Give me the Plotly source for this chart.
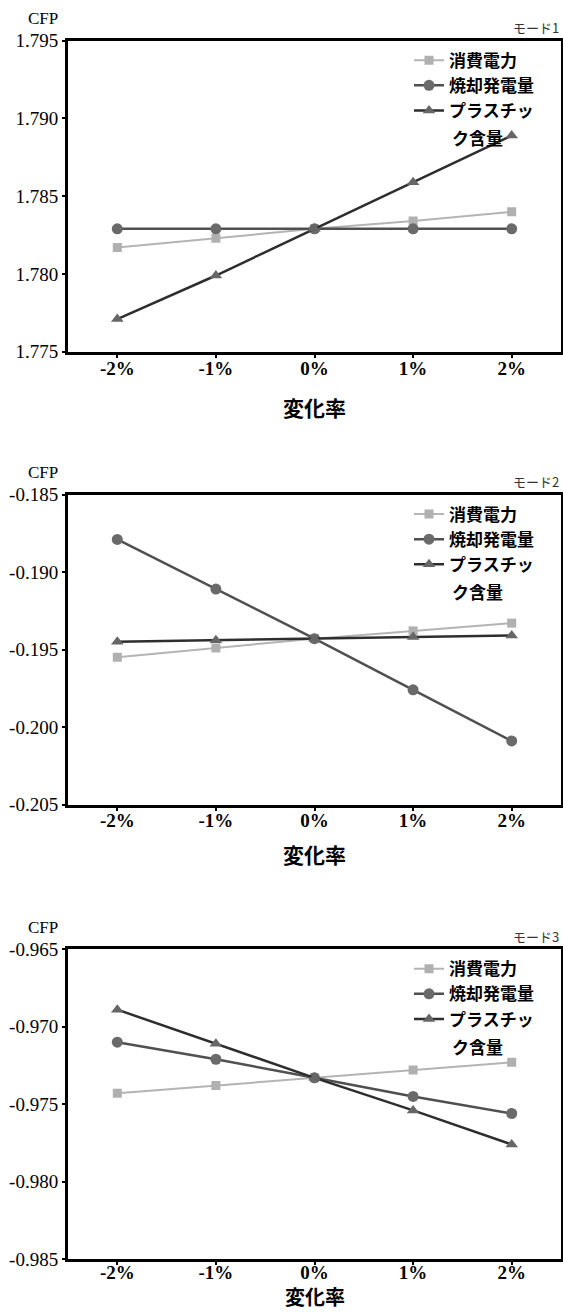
import plotly.graph_objects as go

# ---- data ----
categories = ["-2%", "-1%", "0%", "1%", "2%"]
series_names = ["消費電力", "焼却発電量", "プラスチック含量"]
legend_names = ["消費電力", "焼却発電量", "プラスチッ"]
legend_wrap = "ク含量"

mode1_power = [1.7817, 1.7823, 1.7829, 1.7834, 1.7840]
mode1_incin = [1.7829, 1.7829, 1.7829, 1.7829, 1.7829]
mode1_plast = [1.7771, 1.7799, 1.7829, 1.7859, 1.7889]

mode2_power = [-0.1955, -0.1949, -0.1943, -0.1938, -0.1933]
mode2_incin = [-0.1879, -0.1911, -0.1943, -0.1976, -0.2009]
mode2_plast = [-0.1945, -0.1944, -0.1943, -0.1942, -0.1941]

mode3_power = [-0.9743, -0.9738, -0.9733, -0.9728, -0.9723]
mode3_incin = [-0.9710, -0.9721, -0.9733, -0.9745, -0.9756]
mode3_plast = [-0.9689, -0.9711, -0.9733, -0.9754, -0.9776]

mode_labels = ["モード1", "モード2", "モード3"]
y_tickvals = [
    [1.775, 1.780, 1.785, 1.790, 1.795],
    [-0.205, -0.200, -0.195, -0.190, -0.185],
    [-0.985, -0.980, -0.975, -0.970, -0.965],
]
y_ticktext = [
    ["1.775", "1.780", "1.785", "1.790", "1.795"],
    ["-0.205", "-0.200", "-0.195", "-0.190", "-0.185"],
    ["-0.985", "-0.980", "-0.975", "-0.970", "-0.965"],
]
y_axis_label = "CFP"
x_axis_label = "変化率"

panels = [
    (mode1_power, mode1_incin, mode1_plast),
    (mode2_power, mode2_incin, mode2_plast),
    (mode3_power, mode3_incin, mode3_plast),
]

# ---- styles ----
W, H = 563, 1313
x_dom = [68 / W, 561 / W]
panel_px = [(40.7, 351.7), (494.5, 804.5), (949.2, 1259.2)]
title_shift = [-55, -49, None]
title_size = [21, 21, 20]
label_standoff = [-6, -6, -9]
y_doms = [[1 - b / H, 1 - t / H] for (t, b) in panel_px]

styles = [
    dict(line=dict(color="#b4b4b4", width=2),
         marker=dict(symbol="square", size=9, color="#b0b0b0")),
    dict(line=dict(color="#505050", width=2.5),
         marker=dict(symbol="circle", size=11, color="#6a6a6a")),
    dict(line=dict(color="#2e2e2e", width=2.5),
         marker=dict(symbol="triangle-up", size=11, color="#666666")),
]

CJK = "Noto Sans CJK JP"
SERIF = "Liberation Serif"

fig = go.Figure()
annotations = []
for i, vals in enumerate(panels):
    xa = "x" if i == 0 else f"x{i+1}"
    ya = "y" if i == 0 else f"y{i+1}"
    lg = "legend" if i == 0 else f"legend{i+1}"
    for j, v in enumerate(vals):
        fig.add_trace(go.Scatter(
            x=categories, y=v, mode="lines+markers",
            name=legend_names[j], xaxis=xa, yaxis=ya, legend=lg,
            line=styles[j]["line"], marker=styles[j]["marker"],
        ))

    axis_common = dict(showline=True, linewidth=3, linecolor="black", mirror=True,
                       ticks="outside", ticklen=3, tickwidth=2, tickcolor="black",
                       showgrid=False, zeroline=False, automargin=False)
    xkey = "xaxis" if i == 0 else f"xaxis{i+1}"
    ykey = "yaxis" if i == 0 else f"yaxis{i+1}"
    fig.update_layout(**{
        xkey: dict(axis_common, domain=x_dom, anchor=ya, type="category",
                   categoryorder="array", categoryarray=categories,
                   range=[-0.5, 4.5], ticklabelstandoff=label_standoff[i],
                   tickfont=dict(family=SERIF, size=19, color="black", weight="bold")),
        ykey: dict(axis_common, domain=y_doms[i], anchor=xa,
                   range=[y_tickvals[i][0], y_tickvals[i][-1]],
                   tickvals=y_tickvals[i], ticktext=y_ticktext[i],
                   tickfont=dict(family=SERIF, size=19, color="black")),
        lg: dict(x=409 / W, xanchor="left",
                 y=1 - (panel_px[i][0] + 2) / H, yanchor="top",
                 bgcolor="rgba(0,0,0,0)", borderwidth=0,
                 font=dict(family=CJK, size=17, color="black", weight="bold"),
                 valign="middle", itemwidth=30),
    })
    xd = f"{xa} domain"
    yd = f"{ya} domain"
    if title_shift[i] is None:
        title_pos = dict(yref="paper", y=0, yanchor="bottom", yshift=0)
    else:
        title_pos = dict(yref=yd, y=0, yanchor="middle", yshift=title_shift[i])
    annotations += [
        dict(text=y_axis_label, xref=xd, yref=yd, x=0, y=1, xanchor="center",
             yanchor="middle", xshift=-25, yshift=22, showarrow=False,
             font=dict(family=SERIF, size=17, color="black")),
        dict(text=mode_labels[i], xref=xd, yref=yd, x=1, y=1, xanchor="right",
             yanchor="middle", yshift=13, showarrow=False,
             font=dict(family=CJK, size=13, color="#333333")),
        dict(text=x_axis_label, xref=xd, x=0.5, xanchor="center", showarrow=False,
             font=dict(family=CJK, size=title_size[i], color="black", weight="bold"),
             **title_pos),
        dict(text=legend_wrap, xref="paper", yref=yd, x=450 / W, y=1,
             xanchor="left", yanchor="middle", yshift=-97, showarrow=False,
             font=dict(family=CJK, size=17, color="black", weight="bold")),
    ]

fig.update_layout(
    width=W, height=H,
    margin=dict(l=0, r=0, t=0, b=0, autoexpand=False),
    paper_bgcolor="white", plot_bgcolor="white",
    showlegend=True,
    annotations=annotations,
)

fig.write_html(
    "out.html",
    config={"displayModeBar": False},
    post_script="document.body.style.margin='0';document.body.style.overflow='hidden';",
)
